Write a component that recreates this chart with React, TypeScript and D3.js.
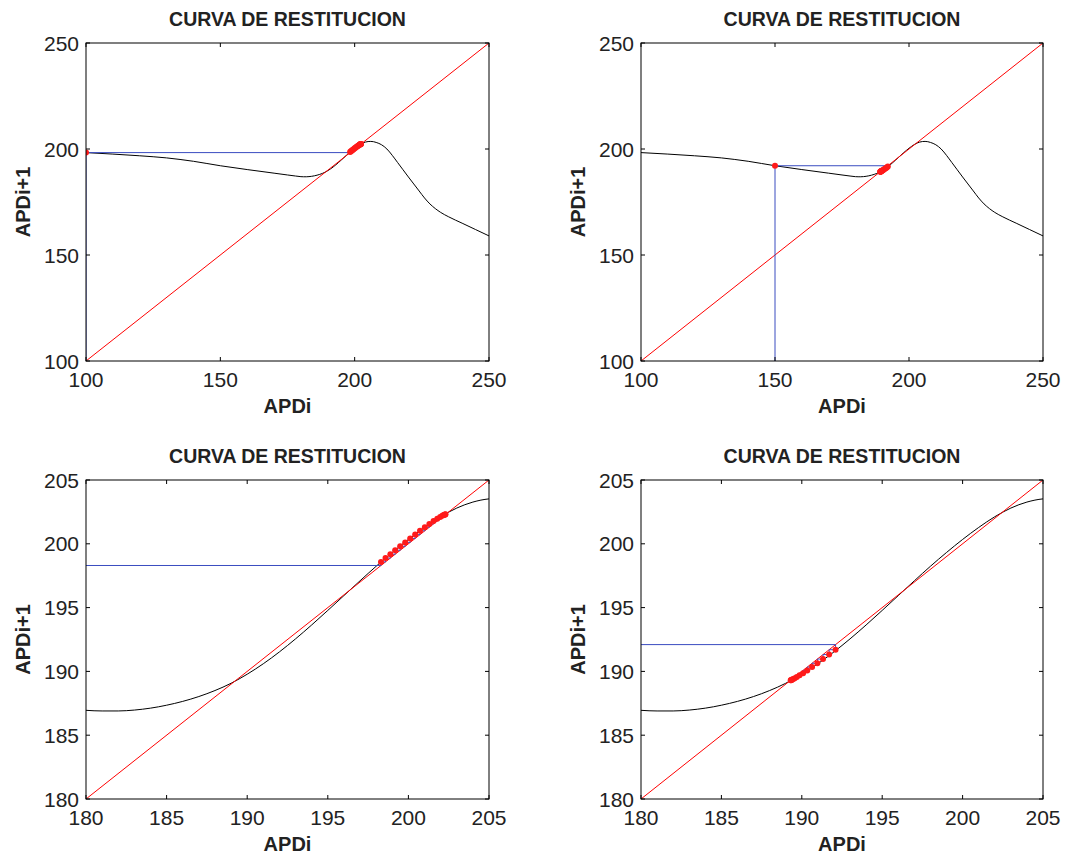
import React from "react";
import * as d3 from "d3";

// restitution curve: APDi -> APDi+1
const apd = [100, 110, 120, 130, 140, 150, 160, 170, 175, 178, 180, 181, 182, 183, 184, 185, 186, 187, 188, 189, 190, 191, 192, 193, 194, 195, 196, 197, 198, 199, 200, 201, 202, 203, 204, 205, 206, 207, 208, 210, 212, 214, 216, 218, 220, 222, 224, 226, 228, 230, 232, 235, 240, 245, 250];
const apdNext = [198.3, 197.6, 196.8, 195.8, 194.2, 192.1, 190.3, 188.6, 187.75, 187.25, 186.95, 186.9, 186.9, 186.97, 187.12, 187.35, 187.65, 188.03, 188.5, 189.07, 189.78, 190.6, 191.53, 192.55, 193.64, 194.78, 195.94, 197.1, 198.24, 199.32, 200.34, 201.28, 202.12, 202.8, 203.27, 203.52, 203.58, 203.45, 203.1, 202.0, 200.0, 197.0, 193.6, 190.2, 186.8, 183.5, 180.2, 176.9, 174.1, 171.9, 170.1, 168.0, 165.0, 162.0, 159.0];

// successive APD values of the two iterations
const iterFrom100 = [100, 198.3, 198.58, 198.88, 199.18, 199.49, 199.8, 200.11, 200.42, 200.72, 201.02, 201.3, 201.56, 201.79, 201.97, 202.1, 202.19, 202.25, 202.28, 202.3, 202.31];
const iterFrom150 = [150, 192.1, 191.7, 191.32, 190.97, 190.64, 190.34, 190.08, 189.86, 189.69, 189.56, 189.47, 189.4, 189.36, 189.33, 189.31, 189.3];

const wideTicks = [100, 150, 200, 250];
const zoomTicks = [180, 185, 190, 195, 200, 205];

const title = "CURVA DE RESTITUCION";
const xLabel = "APDi";
const yLabel = "APDi+1";

const font = "Arial, 'Liberation Sans', Helvetica, sans-serif";

type PanelProps = {
  id: string;
  left: number;
  top: number;
  width: number;
  height: number;
  ticks: number[];
  iter: number[];
};

const Panel = ({ id, left, top, width, height, ticks, iter }: PanelProps) => {
  const dom = [ticks[0], ticks[ticks.length - 1]];
  const x = d3.scaleLinear().domain(dom).range([left, left + width]);
  const y = d3.scaleLinear().domain(dom).range([top + height, top]);
  const bottom = top + height;

  const curve = d3
    .line<number>()
    .x((d) => x(d))
    .y((d, i) => y(apdNext[i]))
    .curve(d3.curveMonotoneX)(apd);

  // cobweb: up from the axis, then across to the diagonal and back to the curve
  const web: [number, number][] = [[iter[0], dom[0] - 5]];
  iter.forEach((v, i) => {
    if (i + 1 < iter.length) {
      web.push([v, iter[i + 1]]);
      web.push([iter[i + 1], iter[i + 1]]);
    }
  });
  const webPath = d3.line<[number, number]>().x((d) => x(d[0])).y((d) => y(d[1]))(web);
  const dots = iter.slice(0, -1).map((v, i) => [v, iter[i + 1]]);

  const tickLen = 4;
  return (
    <g>
      <defs>
        <clipPath id={id}>
          <rect x={left} y={top} width={width} height={height} />
        </clipPath>
      </defs>
      <g clipPath={`url(#${id})`}>
        <path d={curve || ""} fill="none" stroke="#000" strokeWidth={1} />
        <line x1={x(dom[0])} y1={y(dom[0])} x2={x(dom[1])} y2={y(dom[1])} stroke="#ff0000" strokeWidth={1} />
        <path d={webPath || ""} fill="none" stroke="#3a4cc0" strokeWidth={1} />
        {dots.map((d, i) => (
          <circle key={i} cx={x(d[0])} cy={y(d[1])} r={3} fill="#ff1a1a" />
        ))}
      </g>
      <rect x={left} y={top} width={width} height={height} fill="none" stroke="#000" strokeWidth={1} />
      {ticks.map((t) => (
        <g key={t}>
          <line x1={x(t)} x2={x(t)} y1={bottom} y2={bottom - tickLen} stroke="#000" />
          <line x1={x(t)} x2={x(t)} y1={top} y2={top + tickLen} stroke="#000" />
          <line x1={left} x2={left + tickLen} y1={y(t)} y2={y(t)} stroke="#000" />
          <line x1={left + width} x2={left + width - tickLen} y1={y(t)} y2={y(t)} stroke="#000" />
          <text x={x(t)} y={bottom + 26} fontSize={21} textAnchor="middle" fontFamily={font} fill="#222">
            {t}
          </text>
          <text x={left - 7} y={y(t) + 7.5} fontSize={21} textAnchor="end" fontFamily={font} fill="#222">
            {t}
          </text>
        </g>
      ))}
      <text x={left + width / 2} y={top - 17} fontSize={19.5} fontWeight="bold" textAnchor="middle" fontFamily={font} fill="#222">
        {title}
      </text>
      <text x={left + width / 2} y={bottom + 52} fontSize={20} fontWeight="bold" textAnchor="middle" fontFamily={font} fill="#222">
        {xLabel}
      </text>
      <text
        transform={`translate(${left - 56},${top + height / 2}) rotate(-90)`}
        fontSize={20}
        fontWeight="bold"
        textAnchor="middle"
        fontFamily={font}
        fill="#222"
      >
        {yLabel}
      </text>
    </g>
  );
};

export default function App() {
  return (
    <svg width={1067} height={857} style={{ position: "absolute", left: 0, top: 0, background: "#fff" }}>
      <rect width={1067} height={857} fill="#fff" />
      <Panel id="c1" left={86} top={43} width={403} height={318} ticks={wideTicks} iter={iterFrom100} />
      <Panel id="c2" left={641} top={43} width={402} height={318} ticks={wideTicks} iter={iterFrom150} />
      <Panel id="c3" left={86} top={480} width={403} height={319} ticks={zoomTicks} iter={iterFrom100} />
      <Panel id="c4" left={641} top={480} width={402} height={319} ticks={zoomTicks} iter={iterFrom150} />
    </svg>
  );
}
